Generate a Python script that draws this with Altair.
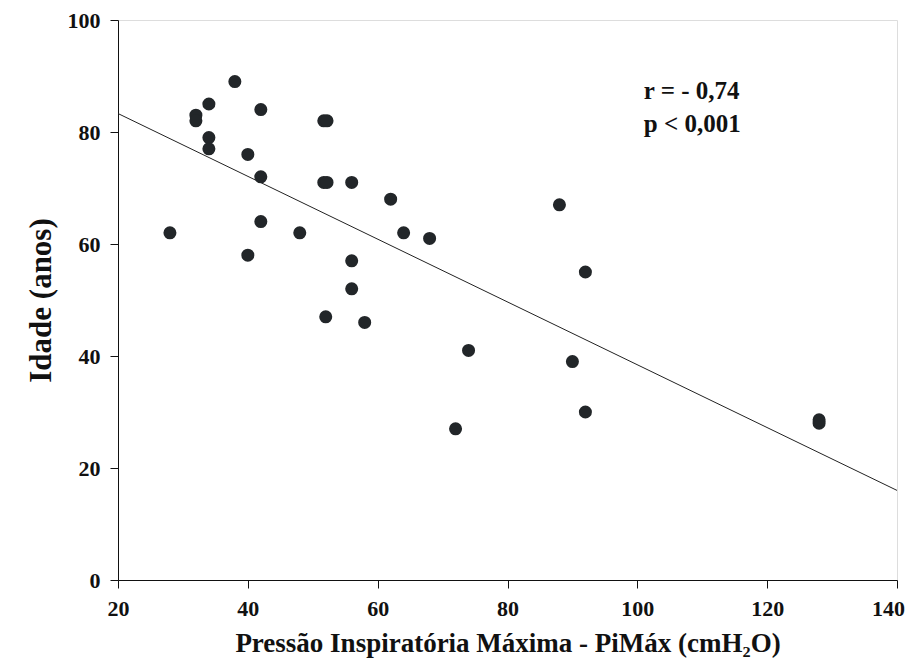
import altair as alt
import pandas as pd

# Data
pimax = [28, 32, 32, 34, 34, 34, 38, 40, 40, 42, 42, 42, 48, 51.7, 52.2, 51.7, 52.2, 52,
         56, 56, 56, 58, 62, 64, 68, 72, 74, 88, 90, 92, 92, 128, 128]
idade = [62, 83, 82, 85, 79, 77, 89, 76, 58, 84, 72, 64, 62, 82, 82, 71, 71, 47,
         71, 57, 52, 46, 68, 62, 61, 27, 41, 67, 39, 55, 30, 28, 28.6]

fit_x = [20, 140]
fit_y = [83.3, 16.0]

note_text = ["r = - 0,74", "p < 0,001"]
note_x = [101.0, 101.0]
note_y = [87.3, 81.5]

x_ticks = [20, 40, 60, 80, 100, 120, 140]
y_ticks = [0, 20, 40, 60, 80, 100]

pts = pd.DataFrame({"x": pimax, "y": idade})
fit = pd.DataFrame({"x": fit_x, "y": fit_y})
notes = pd.DataFrame({"x": note_x, "y": note_y, "t": note_text})

FONT = "Liberation Serif"
INK = "#222629"

xscale = alt.Scale(domain=[20, 140], nice=False, zero=False)
yscale = alt.Scale(domain=[0, 100], nice=False)

xaxis = alt.Axis(values=x_ticks, title="Pressão Inspiratória Máxima - PiMáx (cmH₂O)",
                 grid=False, tickSize=8, labelPadding=10, titlePadding=11,
                 labelOffset={"condition": {"test": "datum.value === 140", "value": -9}, "value": 0},
                 labelFont=FONT, labelFontSize=22, labelFontWeight="bold", labelColor="#111",
                 titleFont=FONT, titleFontSize=27, titleFontWeight="bold", titleColor="#111",
                 domainColor="#111", tickColor="#111", labelFlush=False)
yaxis = alt.Axis(values=y_ticks, title="Idade (anos)", grid=False, tickSize=8,
                 labelPadding=10, titlePadding=10,
                 labelFont=FONT, labelFontSize=22, labelFontWeight="bold", labelColor="#111",
                 titleFont=FONT, titleFontSize=31, titleFontWeight="bold", titleColor="#111",
                 domainColor="#111", tickColor="#111")

points = alt.Chart(pts).mark_circle(size=170, opacity=1, color=INK).encode(
    x=alt.X("x:Q", scale=xscale, axis=xaxis),
    y=alt.Y("y:Q", scale=yscale, axis=yaxis),
)

line = alt.Chart(fit).mark_line(color="#222", strokeWidth=1).encode(
    x=alt.X("x:Q", scale=xscale),
    y=alt.Y("y:Q", scale=yscale),
)

text = alt.Chart(notes).mark_text(align="left", baseline="middle", font=FONT,
                                  fontSize=25, fontWeight="bold", color="#111").encode(
    x=alt.X("x:Q", scale=xscale),
    y=alt.Y("y:Q", scale=yscale),
    text="t:N",
)

chart = alt.layer(line, points, text).properties(
    width=779, height=560,
    autosize=alt.AutoSizeParams(type="none"),
    padding={"left": 110, "top": 12, "right": 10, "bottom": 80},
).configure_view(stroke=None).configure(background="white")

chart.save("out.html", embed_options={"renderer": "svg", "actions": False})
